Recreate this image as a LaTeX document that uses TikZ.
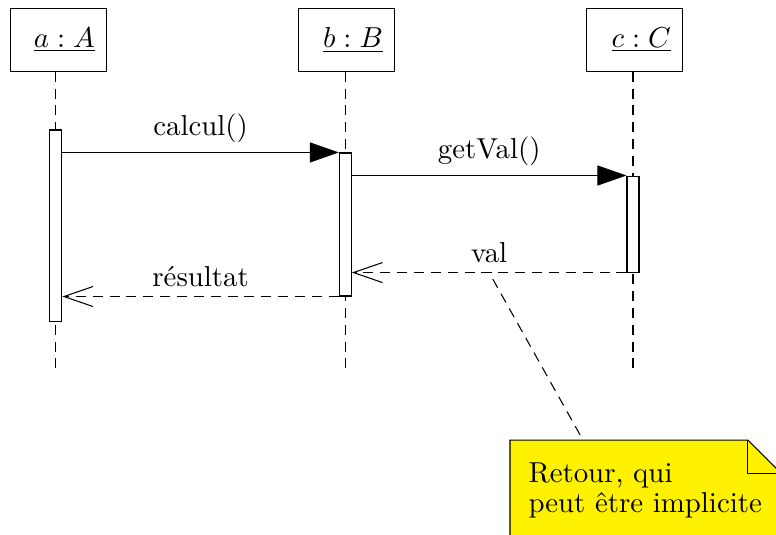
\documentclass[11pt,tikz,border=0pt]{standalone}
\usetikzlibrary{arrows.meta}
\begin{document}
\begin{tikzpicture}[
                object/.style={
                    draw,
                    text width=0.97cm,
                    align=right,
                    inner xsep=0.16cm,
                    minimum height=0.83cm,
                    inner ysep=0pt
                },
                lifeline/.style={
                    dash pattern=on 3.8pt off 2.6pt
                },
                activation/.style={
                    draw,
                    fill=white,
                    minimum width=0.16cm,
                    inner sep=0pt
                },
                call/.style={
                    -{Triangle[length=11pt,width=7.6pt]}
                },
                reply/.style={
                    dash pattern=on 3.8pt off 2.6pt,
                    -{Straight Barb[length=11pt,width=7.6pt]}
                },
                note/.style={
                    draw,
                    fill=yellow
                }
            ]

                \useasboundingbox (0,0) rectangle (10.347,-7.133);
                \clip (0,0) rectangle (10.347,-7.133);

                \node[object] (a) at (0.78,-0.533) {$\underline{a : A}$};
                \node[object] (b) at (4.62,-0.533) {$\underline{b : B}$};
                \node[object] (c) at (8.46,-0.533) {$\underline{c : C}$};

                \node[coordinate] (aEnd) at (0.745,-4.907) {};
                \node[coordinate] (bEnd) at (4.605,-4.907) {};
                \node[coordinate] (cEnd) at (8.44,-4.907) {};

                \draw[lifeline] (aEnd |- a.south) -- (aEnd);
                \draw[lifeline] (bEnd |- b.south) -- (bEnd);
                \draw[lifeline] (cEnd |- c.south) -- (cEnd);

                \node[activation, minimum height=2.547cm] (actA) at (0.745,-3.007) {};
                \node[activation, minimum height=1.907cm] (actB) at (4.605,-2.993) {};
                \node[activation, minimum height=1.28cm] (actC) at (8.44,-2.987) {};

                \draw[call] (actA.east |- actB.north) -- node[midway, above] {calcul()} (actB.north west);
                \draw[call] (actB.east |- actC.north) -- node[midway, above] {getVal()} (actC.north west);
                \draw[reply] (actC.south west) -- node[midway, above] {val} (actB.east |- actC.south);
                \draw[reply] (actB.south west) -- node[midway, above] {résultat} (actA.east |- actB.south);

                % note
                \node[coordinate] (noteStart) at (6.57,-3.72) {};
                \node[coordinate] (noteEnd) at (7.773,-5.867) {};
                \draw[lifeline] (noteStart) -- (noteEnd);

                \draw[note] (6.8,-5.867) -- (9.973,-5.867) -- (10.413,-6.307) -- (10.413,-7.4) -- (6.8,-7.4) -- cycle;
                \draw (9.973,-5.867) -- (9.973,-6.307) -- (10.413,-6.307);
                \node[anchor=north west, align=left, inner sep=0pt, font=\fontsize{10.95}{11.4}\selectfont] (noteText) at (7.04,-6.16) {Retour, qui\\peut être implicite};

            \end{tikzpicture}
\end{document}
